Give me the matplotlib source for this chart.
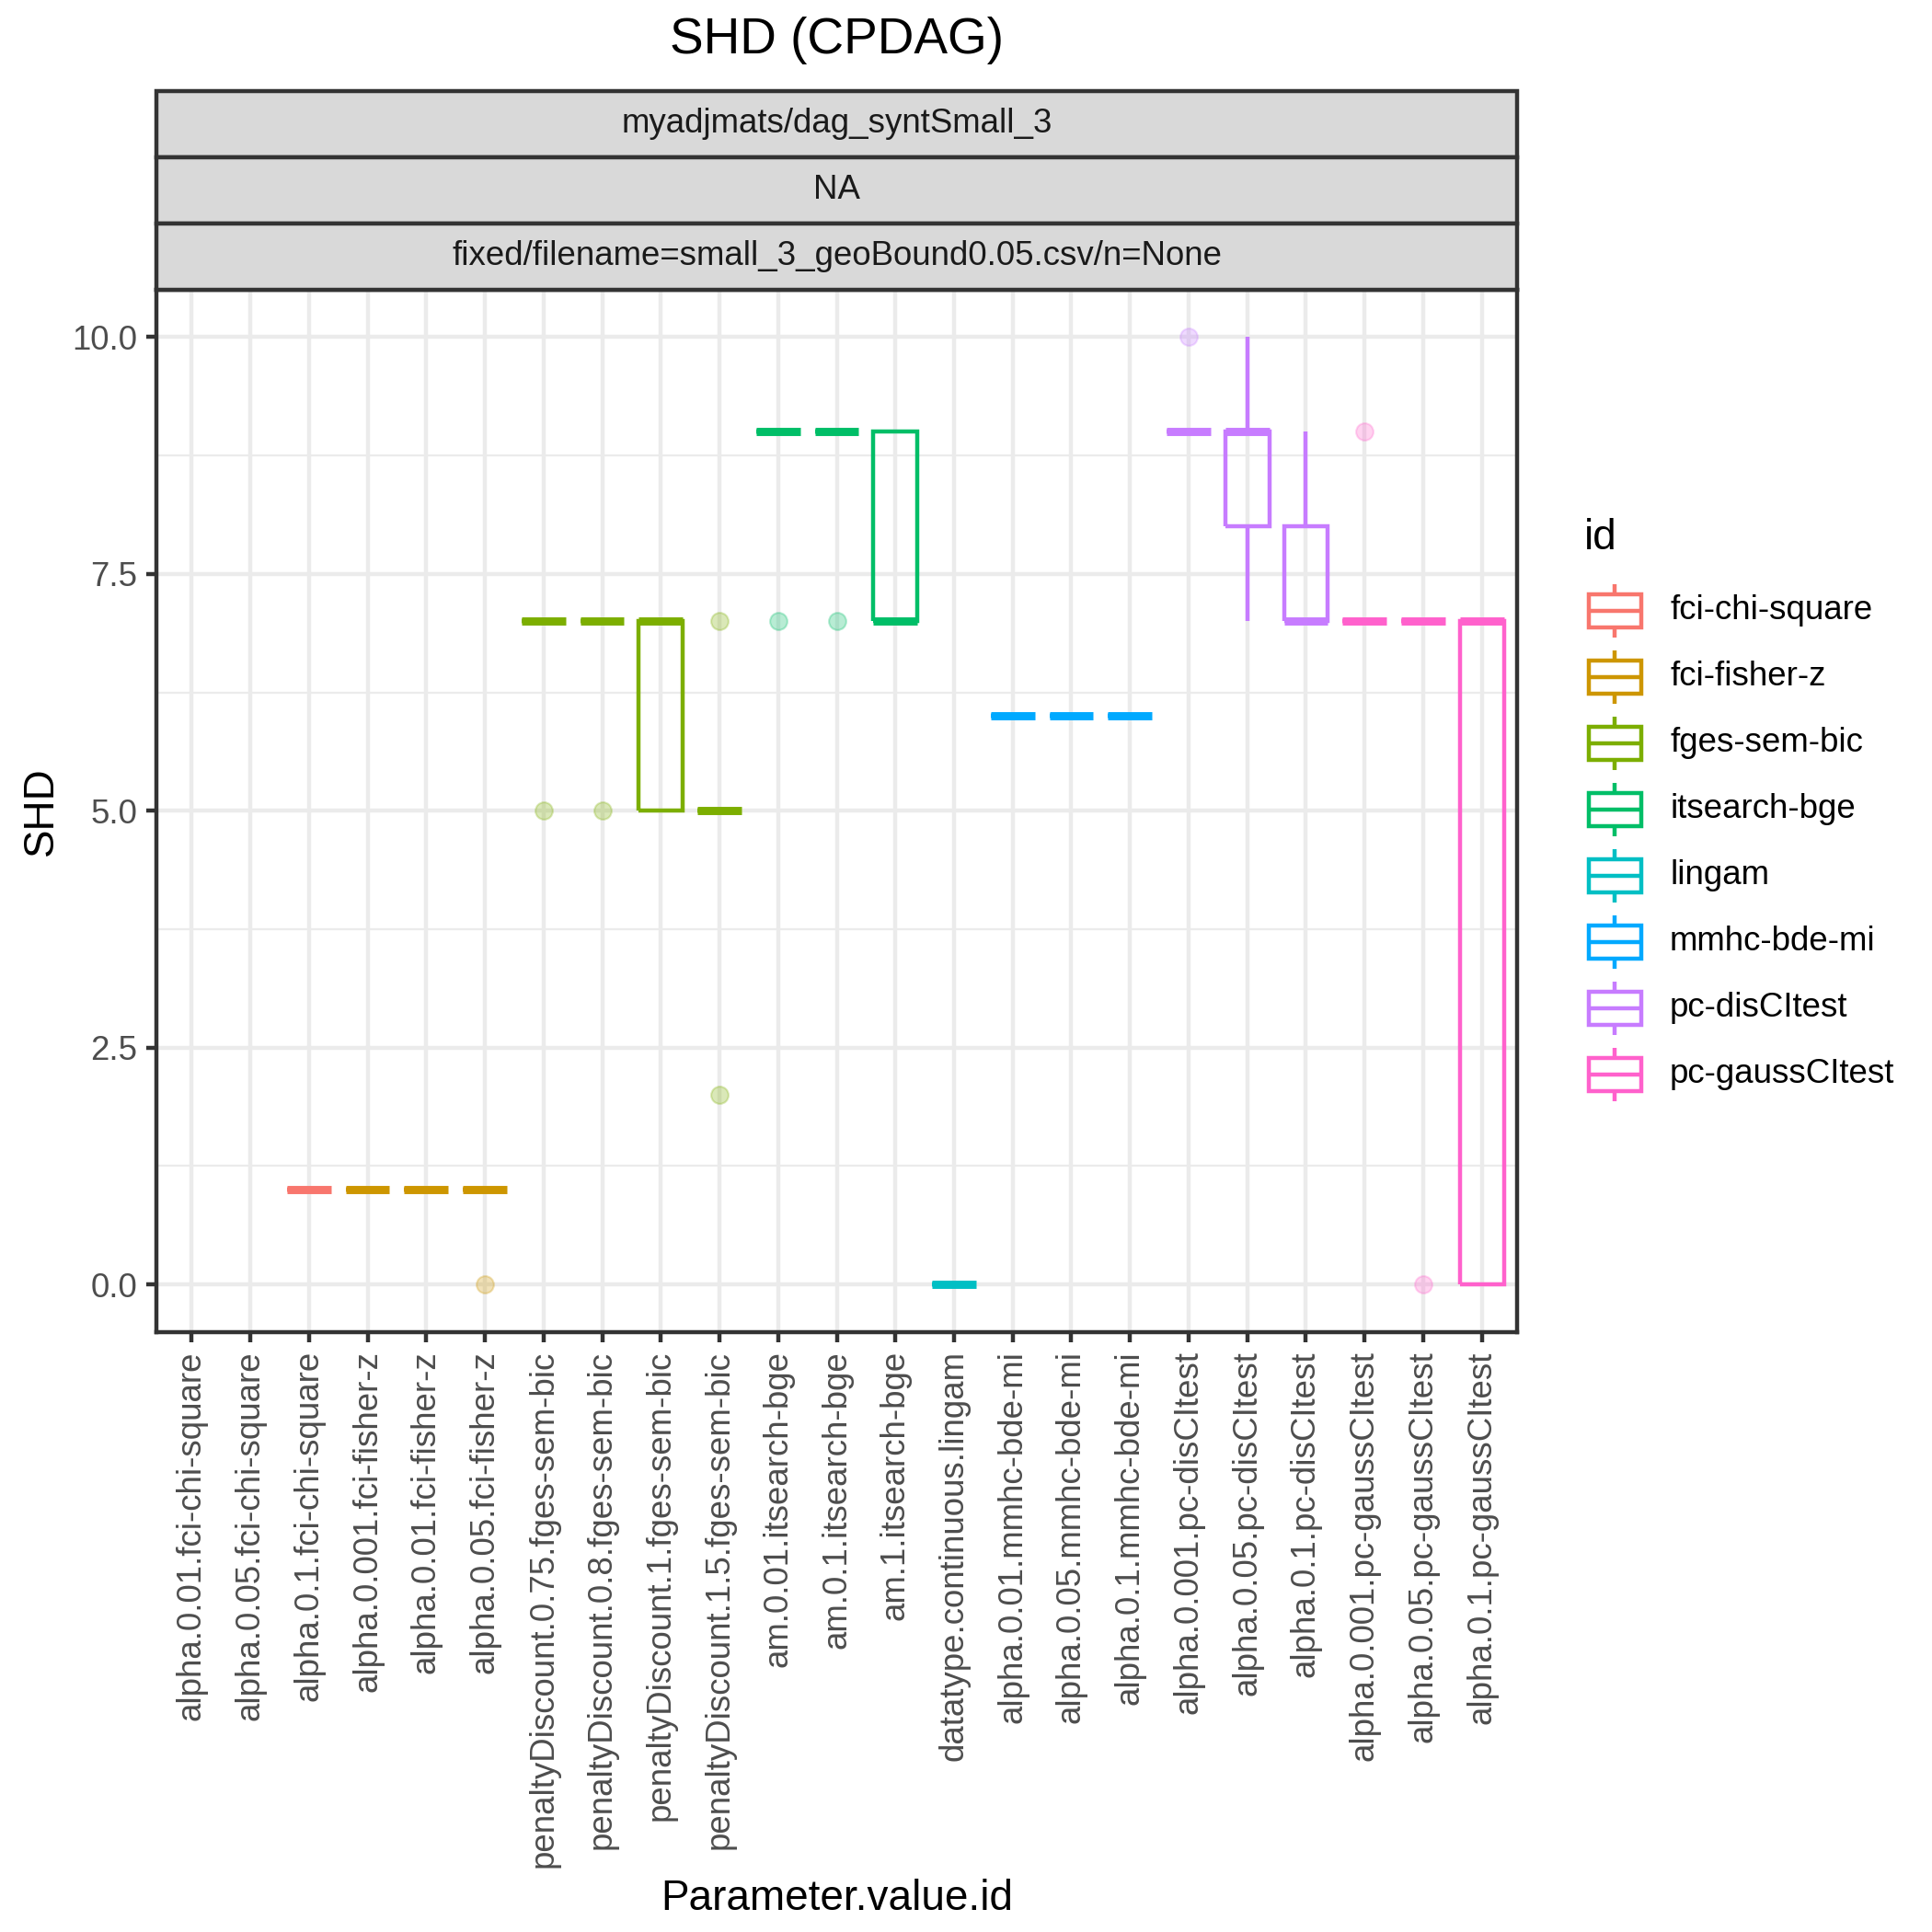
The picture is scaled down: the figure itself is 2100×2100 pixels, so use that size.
import matplotlib
matplotlib.use("Agg")
import matplotlib.pyplot as plt
from matplotlib.patches import Rectangle
from matplotlib.ticker import FixedLocator

plt.rcParams['font.family'] = ['Liberation Sans', 'DejaVu Sans']
plt.rcParams['lines.solid_joinstyle'] = 'miter'
plt.rcParams['lines.solid_capstyle'] = 'butt'

#[1] data
categories = ['alpha.0.01.fci-chi-square', 'alpha.0.05.fci-chi-square', 'alpha.0.1.fci-chi-square',
              'alpha.0.001.fci-fisher-z', 'alpha.0.01.fci-fisher-z', 'alpha.0.05.fci-fisher-z',
              'penaltyDiscount.0.75.fges-sem-bic', 'penaltyDiscount.0.8.fges-sem-bic',
              'penaltyDiscount.1.fges-sem-bic', 'penaltyDiscount.1.5.fges-sem-bic',
              'am.0.01.itsearch-bge', 'am.0.1.itsearch-bge', 'am.1.itsearch-bge',
              'datatype.continuous.lingam',
              'alpha.0.01.mmhc-bde-mi', 'alpha.0.05.mmhc-bde-mi', 'alpha.0.1.mmhc-bde-mi',
              'alpha.0.001.pc-disCItest', 'alpha.0.05.pc-disCItest', 'alpha.0.1.pc-disCItest',
              'alpha.0.001.pc-gaussCItest', 'alpha.0.05.pc-gaussCItest', 'alpha.0.1.pc-gaussCItest']
cat_ids = ['fci-chi-square'] * 3 + ['fci-fisher-z'] * 3 + ['fges-sem-bic'] * 4 + ['itsearch-bge'] * 3 + \
          ['lingam'] + ['mmhc-bde-mi'] * 3 + ['pc-disCItest'] * 3 + ['pc-gaussCItest'] * 3
# SHD values per run (empty = no results)
shd = [[], [], [1, 1, 1, 1, 1],
       [1, 1, 1, 1, 1], [1, 1, 1, 1, 1], [0, 1, 1, 1, 1],
       [5, 7, 7, 7, 7], [5, 7, 7, 7, 7], [5, 5, 7, 7, 7], [2, 5, 5, 5, 7],
       [7, 9, 9, 9, 9], [7, 9, 9, 9, 9], [7, 7, 7, 9, 9],
       [0, 0, 0, 0, 0],
       [6, 6, 6, 6, 6], [6, 6, 6, 6, 6], [6, 6, 6, 6, 6],
       [9, 9, 9, 9, 10], [7, 8, 9, 9, 10], [7, 7, 7, 8, 9],
       [7, 7, 7, 7, 9], [0, 7, 7, 7, 7], [0, 0, 7, 7, 7]]
id_names = ['fci-chi-square', 'fci-fisher-z', 'fges-sem-bic', 'itsearch-bge',
            'lingam', 'mmhc-bde-mi', 'pc-disCItest', 'pc-gaussCItest']
id_colors = ['#F8766D', '#CD9600', '#7CAE00', '#00BE67', '#00BFC4', '#00A9FF', '#C77CFF', '#FF61CC']
strip_labels = ['myadjmats/dag_syntSmall_3', 'NA', 'fixed/filename=small_3_geoBound0.05.csv/n=None']

#[2] figure
lw = 1.07
fig = plt.figure(figsize=(7, 7), dpi=300)
ax_l, ax_r, ax_b, ax_t = 0.0810, 0.7852, 0.3107, 0.85
ax = fig.add_axes([ax_l, ax_b, ax_r - ax_l, ax_t - ax_b])

color_of = dict(zip(id_names, id_colors))
for i, vals in enumerate(shd):
    if len(vals) == 0:
        continue
    c = color_of[cat_ids[i]]
    ax.boxplot([vals], positions=[i + 1], widths=0.75, whis=1.5, showcaps=False,
               boxprops=dict(color=c, linewidth=lw),
               whiskerprops=dict(color=c, linewidth=lw),
               medianprops=dict(color=c, linewidth=2 * lw),
               flierprops=dict(marker='o', markerfacecolor=c, markeredgecolor=c,
                               markersize=4.5, markeredgewidth=0.5, alpha=0.28),
               zorder=3)

ax.set_xlim(0.4, len(categories) + 0.6)
ax.set_ylim(-0.5, 10.5)
ax.set_xticks(range(1, len(categories) + 1))
ax.set_xticklabels(categories, rotation=90, fontsize=8.8, color='#4D4D4D', va='top', ha='center')
ax.set_yticks([0, 2.5, 5, 7.5, 10])
ax.set_yticklabels(['0.0', '2.5', '5.0', '7.5', '10.0'], fontsize=8.8, color='#4D4D4D')
ax.yaxis.set_minor_locator(FixedLocator([1.25, 3.75, 6.25, 8.75]))
ax.tick_params(axis='both', which='major', length=2.75, width=lw, color='#333333', pad=2.2)
ax.tick_params(axis='y', which='minor', length=0)
ax.grid(True, which='major', color='#EBEBEB', linewidth=lw, zorder=0)
ax.grid(True, which='minor', axis='y', color='#EBEBEB', linewidth=lw / 2, zorder=0)
ax.set_axisbelow(True)
for s in ax.spines.values():
    s.set_color('#333333')
    s.set_linewidth(lw)
    s.set_zorder(5)
ax.set_xlabel('Parameter.value.id', fontsize=11, labelpad=2.75)
ax.set_ylabel('SHD', fontsize=11, labelpad=2.75)

#[3] facet strips
strip_h = 0.0343
for k, lab in enumerate(strip_labels):
    y0 = ax_t + (len(strip_labels) - 1 - k) * strip_h
    fig.patches.append(Rectangle((ax_l, y0), ax_r - ax_l, strip_h, transform=fig.transFigure,
                                 facecolor='#D9D9D9', edgecolor='#333333', linewidth=lw))
    fig.text((ax_l + ax_r) / 2, y0 + strip_h / 2, lab, fontsize=8.8, color='#1A1A1A',
             ha='center', va='center')

#[4] title
fig.text((ax_l + ax_r) / 2, 0.979, 'SHD (CPDAG)', fontsize=13.2, ha='center', va='center')

#[5] legend
key = 0.0343
n = len(id_names)
lax = fig.add_axes([0.8188, 0.7011 - n * key, key, n * key])
lax.set_xlim(0, 1)
lax.set_ylim(0, n)
lax.axis('off')
for j, (name, c) in enumerate(zip(id_names, id_colors)):
    yc = n - j - 0.5
    lax.add_patch(Rectangle((0.1, yc - 0.25), 0.8, 0.5, facecolor='white', edgecolor=c,
                            linewidth=lw, joinstyle='miter'))
    lax.plot([0.1, 0.9], [yc, yc], color=c, linewidth=lw)
    lax.plot([0.5, 0.5], [yc + 0.25, yc + 0.4], color=c, linewidth=lw)
    lax.plot([0.5, 0.5], [yc - 0.25, yc - 0.4], color=c, linewidth=lw)
    fig.text(0.8643, 0.7011 - (j + 0.5) * key, name, fontsize=8.8, ha='left', va='center')
fig.text(0.82, 0.7216, 'id', fontsize=11, ha='left', va='center')

plt.savefig('out.png', dpi=300)
